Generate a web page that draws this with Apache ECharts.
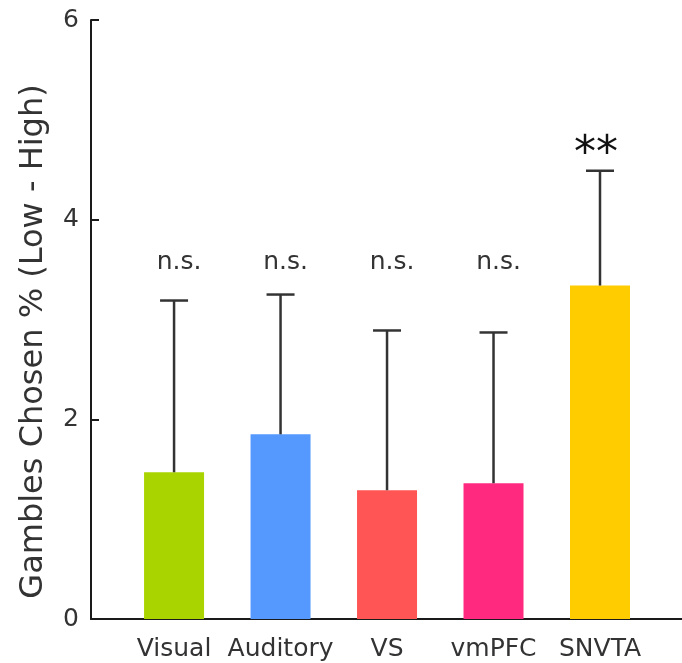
<!DOCTYPE html>
<html>
<head>
<meta charset="utf-8">
<script src="https://cdn.jsdelivr.net/npm/echarts@6/dist/echarts.min.js"></script>
<style>html,body{margin:0;padding:0;background:#fff;}#c{width:682px;height:663px;}</style>
</head>
<body>
<div id="c"></div>
<script>
var categories = ['Visual', 'Auditory', 'VS', 'vmPFC', 'SNVTA'];
var means = [1.47, 1.85, 1.29, 1.36, 3.34];
var errUpper = [3.19, 3.25, 2.89, 2.87, 4.49];
var barColors = ['#aad400', '#5599ff', '#ff5555', '#ff2a7f', '#ffcc00'];
var sigLabels = ['n.s.', 'n.s.', 'n.s.', 'n.s.', '**'];
var sigY = [3.57, 3.57, 3.57, 3.57, 4.64];
var yTicks = [0, 2, 4, 6];

var FONT = 'DejaVu Sans';
var chart = echarts.init(document.getElementById('c'), null, {renderer: 'canvas'});

var barData = means.map(function (m, i) {
  return {value: [i + 1, m], itemStyle: {color: barColors[i]}};
});
var errData = means.map(function (m, i) { return [i + 1, m, errUpper[i]]; });
var sigData = sigLabels.map(function (s, i) { return [i + 1, sigY[i]]; });

chart.setOption({
  animation: false,
  grid: {left: 91, right: 0, top: 20, bottom: 44, containLabel: false, outerBoundsMode: 'none'},
  xAxis: {
    type: 'value', min: 0.22, max: 5.77,
    axisLine: {show: true, lineStyle: {color: '#1a1a1a', width: 2}},
    axisTick: {show: false},
    splitLine: {show: false},
    axisLabel: {
      customValues: [1, 2, 3, 4, 5],
      formatter: function (v) { return categories[Math.round(v) - 1] || ''; },
      fontFamily: FONT, fontSize: 25, color: '#333', margin: 18
    }
  },
  yAxis: {
    type: 'value', min: 0, max: 6, interval: 2,
    name: 'Gambles Chosen % (Low - High)',
    nameLocation: 'middle', nameRotate: 90, nameGap: 41,
    nameTextStyle: {fontFamily: FONT, fontSize: 32, color: '#333', padding: [0, 44, 0, 0]},
    axisLine: {show: true, lineStyle: {color: '#1a1a1a', width: 2}},
    axisTick: {show: true, inside: true, length: 8, lineStyle: {color: '#1a1a1a', width: 2}},
    splitLine: {show: false},
    axisLabel: {
      customValues: yTicks,
      fontFamily: FONT, fontSize: 25, color: '#333', margin: 12
    }
  },
  series: [
    {
      type: 'bar', data: barData, barWidth: 60, z: 2
    },
    {
      type: 'custom', data: errData, z: 3,
      renderItem: function (params, api) {
        var x = api.value(0);
        var p0 = api.coord([x, api.value(1)]);
        var p1 = api.coord([x, api.value(2)]);
        var hw = 14;
        return {
          type: 'group',
          children: [
            {type: 'line', shape: {x1: p0[0], y1: p0[1], x2: p1[0], y2: p1[1]}, style: {stroke: '#333', lineWidth: 2.5}},
            {type: 'line', shape: {x1: p1[0] - hw, y1: p1[1], x2: p1[0] + hw, y2: p1[1]}, style: {stroke: '#333', lineWidth: 2.5}}
          ]
        };
      }
    },
    {
      type: 'custom', data: sigData, z: 4,
      renderItem: function (params, api) {
        var p = api.coord([api.value(0), api.value(1)]);
        var txt = sigLabels[params.dataIndex];
        var big = txt === '**';
        return {
          type: 'text',
          style: {
            text: txt, x: p[0] + (big ? -4 : 5), y: p[1],
            align: 'center', verticalAlign: 'middle',
            font: (big ? '44px ' : '25px ') + '"' + FONT + '"',
            fill: big ? '#111' : '#333'
          }
        };
      }
    }
  ]
});
</script>
</body>
</html>
